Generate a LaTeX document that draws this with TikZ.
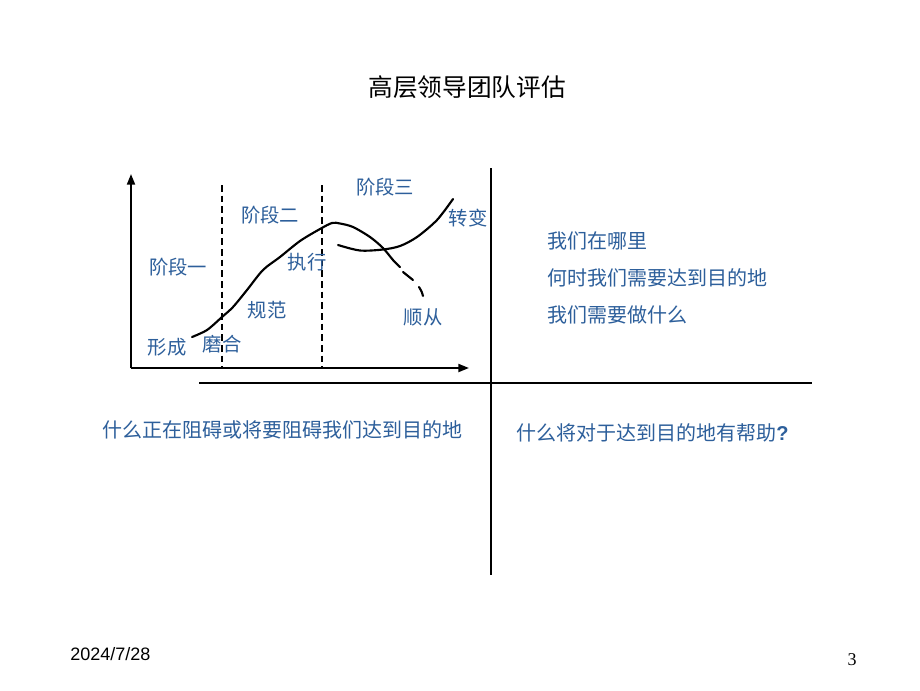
\documentclass[tikz,border=0pt]{standalone}
\usepackage{fontspec}
\setmainfont{Liberation Sans}
\newfontfamily\cjk{Noto Sans CJK SC}
\newfontfamily\serifnum{Liberation Serif}
\usetikzlibrary{arrows.meta}
\definecolor{txtblue}{RGB}{45,95,155}
\tikzset{
  lbl/.style={font=\cjk\fontsize{14.5}{16}\selectfont, text=txtblue, inner sep=0pt},
  qtxt/.style={font=\cjk\fontsize{15}{17}\selectfont, text=txtblue, inner sep=0pt, anchor=west},
  axis/.style={line width=1.5pt, -{Triangle[length=8pt,width=6pt]}},
  sep/.style={line width=1pt},
  vdash/.style={line width=1.4pt, dash pattern=on 5pt off 3pt},
  curve/.style={line width=1.6pt, line cap=round, line join=round},
}
\begin{document}
\begin{tikzpicture}[x=0.75pt,y=-0.75pt]
\useasboundingbox (0,0) rectangle (920,690);
\fill[white] (0,0) rectangle (920,690);
% title
\node[font=\cjk\fontsize{18.5}{20}\selectfont, inner sep=0pt] (title) at (467,87) {高层领导团队评估};
% axes
\coordinate (o) at (131,368);
\coordinate (ytop) at (131,174);
\coordinate (xend) at (469,368);
\draw[axis] (o) -- (ytop);
\draw[axis] (o) -- (xend);
% dashed stage dividers
\coordinate (d1t) at (222,185); \coordinate (d1b) at (222,368);
\coordinate (d2t) at (322,185); \coordinate (d2b) at (322,368);
\draw[vdash] (d1t) -- (d1b);
\draw[vdash] (d2t) -- (d2b);
% quadrant lines
\coordinate (hl) at (199,383); \coordinate (hr) at (812,383);
\coordinate (vt) at (491,168); \coordinate (vb) at (491,575);
\draw[sep] (hl) -- (hr);
\draw[sep] (vt) -- (vb);
% main curve
\draw[curve] plot[smooth, tension=0.5] coordinates {(192,337) (207,330) (222,317) (233,307) (247,290) (263,270) (280,257) (300,241) (320,229) (332,223) (340,223.5) (353,227) (370,237) (383,248) (393,260) (400,267)};
\draw[curve] (403,272) -- (413,280);
\draw[curve] (419,287) .. controls (422,292) .. (423,296);
% second curve
\draw[curve] plot[smooth, tension=0.5] coordinates {(338,245) (360,250.5) (383,249.5) (400,246) (417,237) (437,220) (453,199)};
% chart labels
\node[lbl] (s3) at (385,187) {阶段三};
\node[lbl] (s2) at (270,215) {阶段二};
\node[lbl] (s1) at (178,267) {阶段一};
\node[lbl] (zx) at (307,262) {执行};
\node[lbl] (zb) at (468,218) {转变};
\node[lbl] (gf) at (267,310) {规范};
\node[lbl] (sc) at (423,317) {顺从};
\node[lbl] (xc) at (167,347) {形成};
\node[lbl] (mh) at (222,344) {磨合};
% right texts
\node[qtxt] (q1) at (547,241) {我们在哪里};
\node[qtxt] (q2) at (547,278) {何时我们需要达到目的地};
\node[qtxt] (q3) at (547,315) {我们需要做什么};
\node[qtxt] (q4) at (102,430) {什么正在阻碍或将要阻碍我们达到目的地};
\node[qtxt] (q5) at (516,433) {什么将对于达到目的地有帮助\textbf{\fontspec{Liberation Sans}?}};
% footer
\node[font=\fontsize{13.5}{15}\selectfont, inner sep=0pt, anchor=west] (date) at (70,654) {2024/7/28};
\node[font=\serifnum\fontsize{13.5}{15}\selectfont, inner sep=0pt] (pg) at (852,660) {3};
\end{tikzpicture}
\end{document}
